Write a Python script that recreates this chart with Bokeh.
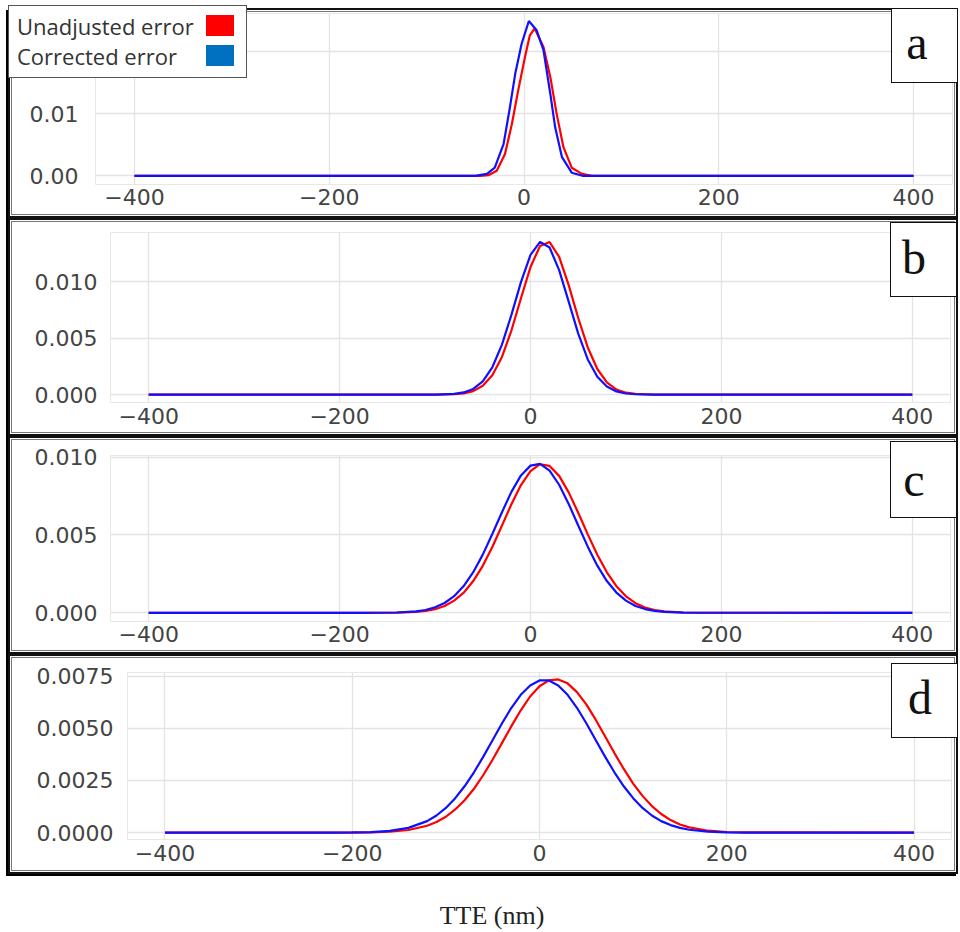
from bokeh.plotting import figure
from bokeh.models import Range1d, FixedTicker, NumeralTickFormatter, Column, Div
from bokeh.embed import file_html
from bokeh.resources import INLINE

# ---------------- data ----------------
X_TICKS = [-400, -200, 0, 200, 400]
X_TICK_LABELS = {-400: "\u2212400", -200: "\u2212200", 0: "0", 200: "200", 400: "400"}
SERIES_NAMES = ["Unadjusted error", "Corrected error"]
PANEL_LETTERS = ["a", "b", "c", "d"]

# panel a
a_unadj_x = [-400, -45, -36.5, -28, -19.5, -12.5, -6, 1, 6, 11, 20, 27, 33.5, 40.5, 49, 59.5, 70, 400]
a_unadj_y = [0, 0, 0.0001, 0.0008, 0.0035, 0.0083, 0.0137, 0.0191, 0.0226, 0.0237, 0.0207,
             0.0159, 0.0100, 0.0046, 0.0013, 0.0003, 0, 0]
a_corr_x = [-400, -50, -38, -30, -21, -15, -9, -2.5, 5, 13, 20, 27, 32, 39, 49, 60, 400]
a_corr_y = [0, 0, 0.0003, 0.0013, 0.0051, 0.0105, 0.0164, 0.0212, 0.0249, 0.0234, 0.0202,
            0.0132, 0.0078, 0.0030, 0.0005, 0, 0]
a_yticks = [0.0, 0.01, 0.02]

# panel b
b_x = [-400, -100, -80, -70, -60, -50, -40, -30, -20, -10, 0, 10, 20, 30, 40, 50, 60, 70, 80,
       90, 100, 110, 130, 400]
b_unadj_y = [0, 0, 0.00003, 0.00011, 0.00031, 0.00078, 0.00171, 0.00332, 0.00568, 0.00854,
             0.01131, 0.01318, 0.01352, 0.01221, 0.00970, 0.00679, 0.00418, 0.00227, 0.00108,
             0.00045, 0.00017, 0.00006, 0, 0]
b_corr_y = [0, 0, 0.00006, 0.00019, 0.00050, 0.00117, 0.00242, 0.00441, 0.00707, 0.00997,
            0.01239, 0.01354, 0.01304, 0.01104, 0.00824, 0.00541, 0.00312, 0.00159, 0.00071,
            0.00028, 0.00010, 0.00003, 0, 0]
b_yticks = [0.0, 0.005, 0.010]

# panel c
c_x = [-400, -180, -160, -140, -120, -110, -100, -90, -80, -70, -60, -50, -40, -30, -20, -10,
       0, 10, 20, 30, 40, 50, 60, 70, 80, 90, 100, 110, 120, 130, 140, 160, 180, 400]
c_unadj_y = [0, 0, 0.000002, 0.000011, 0.000057, 0.00012, 0.00023, 0.00044, 0.00078, 0.00129,
             0.00204, 0.00302, 0.00423, 0.00559, 0.00698, 0.00821, 0.00911, 0.00955, 0.00944,
             0.00880, 0.00774, 0.00643, 0.00504, 0.00373, 0.00260, 0.00171, 0.00106, 0.00062,
             0.00034, 0.00018, 0.000089, 0.000018, 0.000003, 0]
c_corr_y = [0, 0, 0.000003, 0.000018, 0.000089, 0.00018, 0.00035, 0.00063, 0.00107, 0.00172,
            0.00261, 0.00374, 0.00506, 0.00645, 0.00777, 0.00883, 0.00946, 0.00957, 0.00914,
            0.00823, 0.00700, 0.00561, 0.00425, 0.00303, 0.00204, 0.00130, 0.00078, 0.00044,
            0.00024, 0.00012, 0.000057, 0.000011, 0.000002, 0]
c_yticks = [0.0, 0.005, 0.010]

# panel d
d_x = [-400, -220, -200, -180, -160, -140, -120, -110, -100, -90, -80, -70, -60, -50, -40, -30,
       -20, -10, 0, 10, 20, 30, 40, 50, 60, 70, 80, 90, 100, 110, 120, 130, 140, 150, 160, 180,
       200, 220, 400]
d_unadj_y = [0, 0, 0.000003, 0.000012, 0.000041, 0.000125, 0.00033, 0.00051, 0.00076, 0.00111,
             0.00155, 0.00210, 0.00276, 0.00350, 0.00430, 0.00510, 0.00586, 0.00652, 0.00701,
             0.00729, 0.00734, 0.00715, 0.00673, 0.00614, 0.00541, 0.00462, 0.00381, 0.00305,
             0.00235, 0.00176, 0.00127, 0.00089, 0.00060, 0.00039, 0.00025, 0.000091, 0.000029,
             0.000008, 0]
d_corr_y = [0, 0.000002, 0.000007, 0.000026, 0.000081, 0.000227, 0.00055, 0.00082, 0.00118,
            0.00165, 0.00222, 0.00289, 0.00364, 0.00444, 0.00524, 0.00598, 0.00660, 0.00705,
            0.00729, 0.00729, 0.00705, 0.00660, 0.00598, 0.00524, 0.00444, 0.00364, 0.00289,
            0.00222, 0.00165, 0.00118, 0.00082, 0.00055, 0.00036, 0.000227, 0.000138, 0.000046,
            0.000014, 0.000004, 0]
d_yticks = [0.0, 0.0025, 0.005, 0.0075]

X_LABEL = "TTE (nm)"

# ---------------- styling ----------------
RED = "#ff0000"
BLUE = "#1010ff"
LEG_BLUE = "#0070c0"
TICK_FONT = "DejaVu Sans"
TICK_COLOR = "#444444"
GRID = "#e4e4e4"
OV = 5  # offset of the absolute containing block


def make_panel(ux, uy, cx, cy, yticks, yfmt, yrange, canvas_h, mb, ystand, xstand):
    p = figure(width=942, height=canvas_h, output_backend="svg", toolbar_location=None,
               x_range=Range1d(-440, 440), y_range=Range1d(*yrange),
               min_border_left=mb[0], min_border_right=mb[1],
               min_border_top=mb[2], min_border_bottom=mb[3])
    p.background_fill_color = "white"
    p.border_fill_color = "white"
    p.outline_line_color = "#e8e8e8"
    p.outline_line_width = 1

    for ax in (p.xaxis[0], p.yaxis[0]):
        ax.axis_line_color = None
        ax.major_tick_line_color = None
        ax.minor_tick_line_color = None
        ax.major_tick_out = 0
        ax.major_tick_in = 0
        ax.minor_tick_out = 0
        ax.major_label_text_font = TICK_FONT
        ax.major_label_text_font_size = "22px"
        ax.major_label_text_color = TICK_COLOR
    p.xaxis.ticker = FixedTicker(ticks=X_TICKS)
    p.xaxis.major_label_overrides = X_TICK_LABELS
    p.xaxis.major_label_standoff = xstand
    p.yaxis.ticker = FixedTicker(ticks=yticks)
    p.yaxis.formatter = NumeralTickFormatter(format=yfmt)
    p.yaxis.major_label_standoff = ystand

    p.xgrid.ticker = FixedTicker(ticks=X_TICKS)
    p.ygrid.ticker = FixedTicker(ticks=yticks)
    for g in (p.xgrid[0], p.ygrid[0]):
        g.grid_line_color = GRID
        g.grid_line_width = 1.3

    p.line(ux, uy, line_color=RED, line_width=2.2)
    p.line(cx, cy, line_color=BLUE, line_width=2.2)
    return p


def wrap(p):
    inner = Column(children=[p], styles={"border": "1px solid #777"})
    return Column(children=[inner], styles={"border": "2px solid #111", "padding": "1px",
                                            "box-shadow": "-2px 2px 0 #000",
                                            "background": "white"})


def overlay(html, left, top, w, h):
    return Div(text=html, width=w, height=h,
               styles={"position": "absolute", "left": f"{left - OV}px",
                       "top": f"{top - OV}px", "z-index": "10"})


pa = make_panel(a_unadj_x, a_unadj_y, a_corr_x, a_corr_y, a_yticks, "0.00",
                (-0.0014, 0.0261), 202, (83, 2, 1, 30), 17, 4)
pb = make_panel(b_x, b_unadj_y, b_x, b_corr_y, b_yticks, "0.000",
                (-0.0007, 0.01437), 210, (98, 4, 10, 30), 13, 5)
pc = make_panel(c_x, c_unadj_y, c_x, c_corr_y, c_yticks, "0.000",
                (-0.00056, 0.01011), 210, (98, 4, 15, 29), 13, 4)
pd = make_panel(d_x, d_unadj_y, d_x, d_corr_y, d_yticks, "0.0000",
                (-0.00033, 0.00767), 212, (115, 3, 14, 31), 14, 5)

# legend (text, then colour swatch) over the top-left corner of panel a
legend_rows = "".join(
    f'<div style="position:absolute;left:8px;top:{t}px;font-family:\'Open Sans\';'
    f'font-size:22px;line-height:26px;color:#333;white-space:nowrap">{name}</div>'
    f'<div style="position:absolute;left:197px;top:{t + 2}px;width:28px;height:21px;'
    f'background:{col}"></div>'
    for name, t, col in zip(SERIES_NAMES, [7, 37], [RED, LEG_BLUE]))
legend_html = ('<div style="position:relative;width:239px;height:73px;box-sizing:border-box;'
               'border:1.5px solid #555;background:#fff">' + legend_rows + '</div>')

letter_boxes = [(891, 8, 67, 75, 25, 6), (890, 222, 67, 75, 23, 4), (890, 441, 67, 77, 23, 0),
                (891, 663, 67, 75, 28, 6)]
overlays = [overlay(legend_html, 8, 5, 239, 73)]
for letter, (lx, ly, w, h, cx, lift) in zip(PANEL_LETTERS, letter_boxes):
    html = (f'<div style="position:relative;width:{w}px;height:{h}px;box-sizing:border-box;'
            f'border:1.5px solid #111;background:#fff">'
            f'<div style="position:absolute;left:0;width:{2 * cx}px;top:0;height:{h - lift}px;'
            f'display:flex;align-items:center;justify-content:center;'
            f'font-family:\'Liberation Serif\';font-size:48px;color:#111">{letter}</div></div>')
    overlays.append(overlay(html, lx, ly, w, h))

title = Div(text=X_LABEL, width=950, height=50,
            styles={"font-family": "Liberation Serif", "font-size": "26px", "color": "#222",
                    "text-align": "center", "padding-top": "18px", "padding-left": "8px",
                    "box-sizing": "border-box"})

layout = Column(children=[wrap(pa), wrap(pb), wrap(pc), wrap(pd), title] + overlays,
                styles={"padding-left": "8px", "padding-top": "8px"})

open("out.html", "w").write(file_html(layout, INLINE))
